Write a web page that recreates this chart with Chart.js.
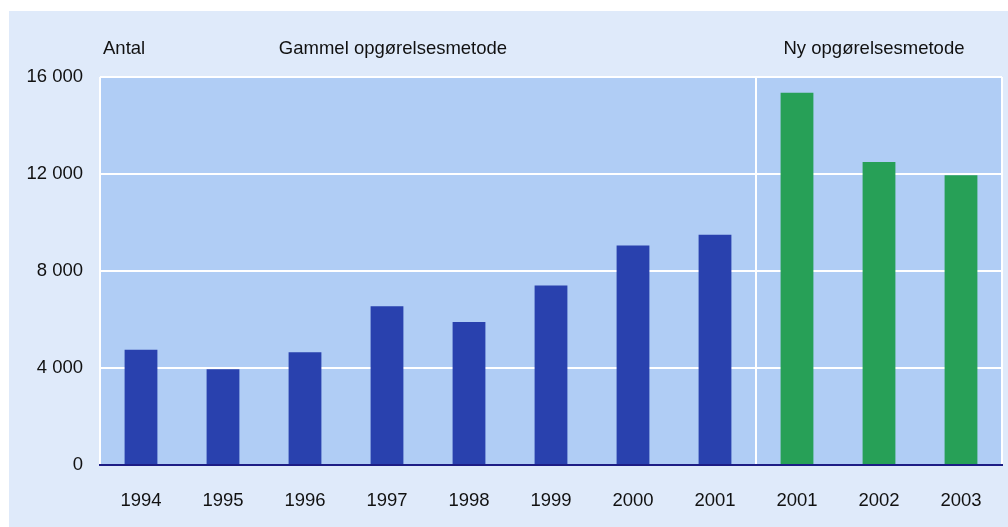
<!DOCTYPE html>
<html>
<head>
<meta charset="utf-8">
<script src="https://cdn.jsdelivr.net/npm/chart.js@4.4.1/dist/chart.umd.min.js"></script>
<style>
    html, body { margin: 0; padding: 0; background: #fff; }
    #wrap { width: 1008px; height: 527px; }
</style>
</head>
<body>
<div id="wrap"><canvas id="chart" width="1008" height="527"></canvas></div>
<script>
// Chart data
const years = ['1994', '1995', '1996', '1997', '1998', '1999', '2000', '2001', '2001', '2002', '2003'];
const oldMethod = [4750, 3950, 4650, 6550, 5900, 7400, 9050, 9500, null, null, null];
const newMethod = [null, null, null, null, null, null, null, null, 15350, 12500, 11950];
const yTicks = [0, 4000, 8000, 12000, 16000];

const unitLabel = 'Antal';
const oldLabel = 'Gammel opgørelsesmetode';
const newLabel = 'Ny opgørelsesmetode';

const FONT = 'Liberation Sans, Arial, sans-serif';

function formatThousands(value) {
    return String(value).replace(/\B(?=(\d{3})+(?!\d))/g, ' ');
}

// backgrounds, borders and header texts
const framePlugin = {
    id: 'frame',
    beforeDraw(chart) {
        const { ctx, chartArea: a } = chart;
        ctx.save();
        ctx.fillStyle = '#dfeafa';
        ctx.fillRect(9, 11, chart.width - 9, chart.height - 11);
        ctx.fillStyle = '#b0cdf5';
        ctx.fillRect(a.left, a.top, a.right - a.left, a.bottom - a.top);
        ctx.restore();
    },
    afterDatasetsDraw(chart) {
        const { ctx, chartArea: a, scales } = chart;
        const x = scales.x;
        const sep = (x.getPixelForTick(7) + x.getPixelForTick(8)) / 2;
        ctx.save();
        ctx.strokeStyle = '#ffffff';
        ctx.lineWidth = 2;
        ctx.beginPath();
        ctx.moveTo(a.left, a.top);
        ctx.lineTo(a.left, a.bottom);
        ctx.moveTo(a.right, a.top);
        ctx.lineTo(a.right, a.bottom);
        ctx.moveTo(sep, a.top);
        ctx.lineTo(sep, a.bottom);
        ctx.stroke();

        ctx.fillStyle = '#111';
        ctx.font = '18.5px ' + FONT;
        ctx.textBaseline = 'middle';
        ctx.textAlign = 'left';
        ctx.fillText(unitLabel, 103, 49);
        ctx.textAlign = 'center';
        ctx.fillText(oldLabel, 393, 49);
        ctx.fillText(newLabel, 874, 49);
        ctx.restore();
    }
};

function renderChart() {
    const ctx = document.getElementById('chart').getContext('2d');

    new Chart(ctx, {
        type: 'bar',
        data: {
            labels: years,
            datasets: [
                { label: oldLabel, data: oldMethod, backgroundColor: '#2941ae' },
                { label: newLabel, data: newMethod, backgroundColor: '#27a057' }
            ]
        },
        options: {
            responsive: false,
            animation: false,
            layout: { padding: { top: 77, right: 6, left: 0, bottom: 0 } },
            datasets: {
                bar: { categoryPercentage: 1, barPercentage: 0.4 }
            },
            plugins: {
                legend: { display: false },
                tooltip: { enabled: false }
            },
            scales: {
                x: {
                    stacked: true,
                    grid: { display: false, drawTicks: false },
                    border: { display: true, color: '#1d1d85', width: 2, z: 1 },
                    ticks: {
                        color: '#111',
                        padding: 25,
                        maxRotation: 0,
                        autoSkip: false,
                        font: { family: FONT, size: 18.5 }
                    },
                    afterFit(scale) { scale.height = 62; }
                },
                y: {
                    min: 0,
                    max: 16000,
                    afterBuildTicks(scale) {
                        scale.ticks = yTicks.map(v => ({ value: v }));
                    },
                    grid: { color: '#ffffff', lineWidth: 2, drawTicks: false },
                    border: { display: false },
                    ticks: {
                        color: '#111',
                        padding: 17,
                        font: { family: FONT, size: 18.5 },
                        callback: value => formatThousands(value)
                    },
                    afterFit(scale) { scale.width = 100; }
                }
            }
        },
        plugins: [framePlugin]
    });
}

renderChart();
</script>
</body>
</html>
